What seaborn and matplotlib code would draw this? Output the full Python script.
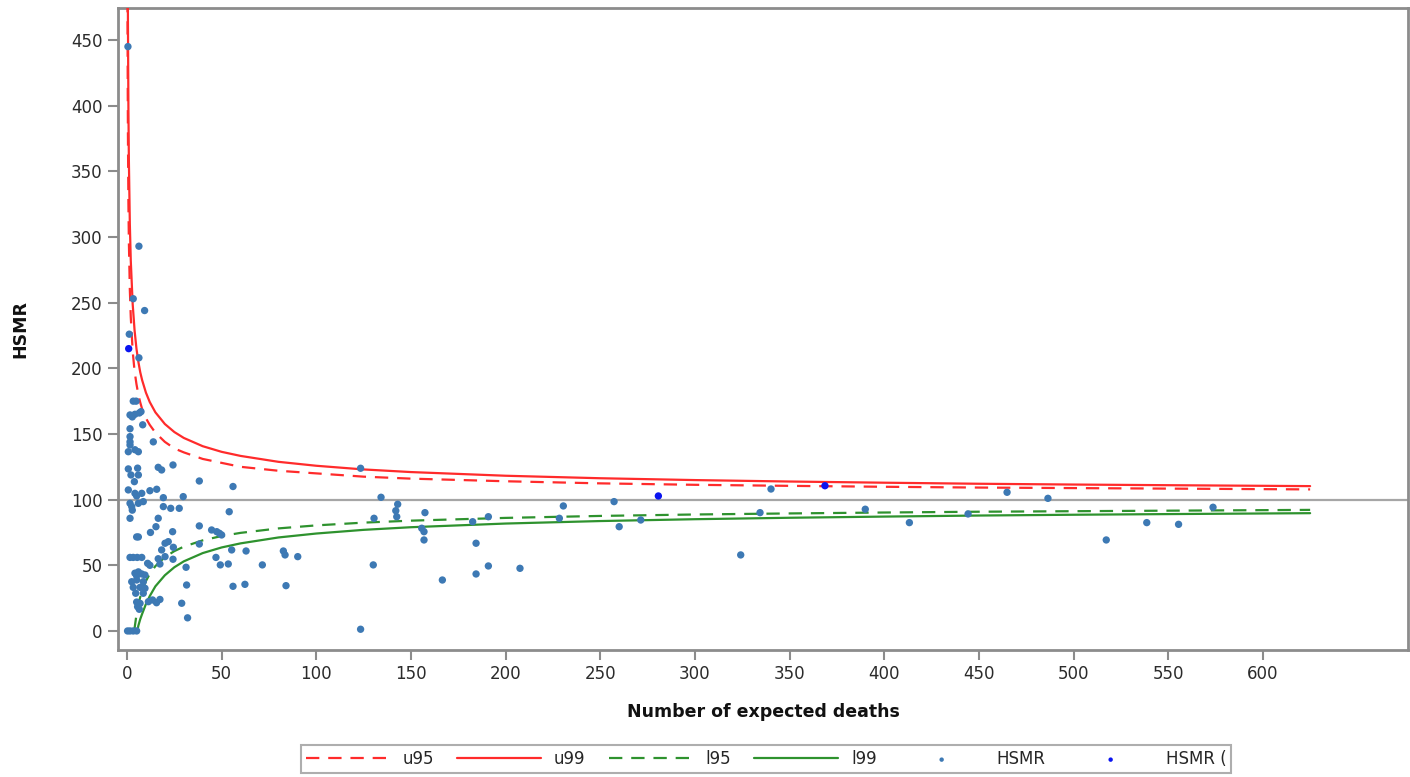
import numpy as np
import pandas as pd
import matplotlib
matplotlib.use("Agg")
import matplotlib.pyplot as plt
import seaborn as sns

# ---- data ----
hsmr_expected = [0.5, 6.3, 3.3, 9.3, 1.2, 6.3,
                 3.3, 4.8, 7.4, 1.6, 2.8, 4.2, 6.5, 8.3, 1.6,
                 1.6, 1.6, 1.6, 4.2, 6.0, 0.7, 13.9,
                 0.7, 5.6, 2.1, 6.0, 3.9, 16.5, 18.3, 24.3, 38.2, 56.0,
                 0.7, 4.2, 5.1, 7.8, 12.1, 15.7, 19.2, 29.7,
                 1.6, 2.5, 6.0, 8.6, 2.8, 19.2, 23.1, 27.6, 54.0,
                 1.6, 16.5, 15.3, 12.4, 5.1, 6.0, 24.1, 38.2, 44.7, 47.4, 48.8, 50.0,
                 38.2, 20.1, 21.8, 24.5, 18.3, 20.1,
                 1.6, 3.3, 5.4, 7.8, 16.5, 17.4, 24.3, 10.9, 12.1,
                 55.3, 62.9, 82.6, 83.5, 90.2, 47.0, 49.3, 53.5, 71.5,
                 6.0, 4.2, 7.8, 9.5, 5.1,
                 2.5, 5.1, 8.6, 3.3, 6.9, 9.5, 4.6, 8.6,
                 31.2, 31.5, 56.0, 62.3, 84.0,
                 5.1, 6.9, 5.6, 6.5, 11.3, 13.5, 15.6, 17.4,
                 28.9, 32.0, 0.3, 1.6, 3.3, 5.1, 123.4,
                 123.4, 134.2, 130.5, 130.1, 143.0, 142.0, 142.5, 157.4, 155.7,
                 156.9, 156.9, 166.6, 182.6, 184.4, 184.4, 190.9, 190.9, 207.6,
                 230.5, 228.4, 257.3, 260.0, 271.4, 324.2, 334.4, 340.2, 390.0,
                 413.3, 444.3, 464.9, 486.5, 517.3, 538.7, 555.5, 573.7]
hsmr_value = [445, 293, 253, 244, 226, 208,
              175, 175, 167, 164.5, 163, 165, 166, 157, 154,
              148, 144, 141.6, 138, 136.5, 136.5, 144,
              123.4, 124, 118.8, 118.8, 113.7, 124.6, 122.6, 126.4, 114.2, 110,
              107.4, 104.8, 102.8, 104.8, 106.8, 107.9, 101.5, 102.3,
              97.2, 94.7, 97.2, 98.5, 92, 94.7, 93.4, 93.4, 90.8,
              85.8, 85.8, 79.4, 75, 71.6, 71.6, 75.6, 80, 76.9, 75.6, 74.4, 73.1,
              66.2, 66.8, 68, 63.7, 61.7, 56.6,
              56, 56, 56, 56, 55, 51, 54.6, 51.5, 50,
              61.7, 60.9, 60.9, 57.9, 56.6, 56, 50.3, 51, 50.3,
              45, 44, 43.4, 42.6, 42,
              37.5, 38.8, 37.5, 33.2, 33.2, 32.5, 28.7, 28.7,
              48.5, 35, 34, 35.5, 34.5,
              22, 21, 18.5, 16.5, 22.3, 23.6, 21.5, 24,
              21.1, 10, 0, 0, 0, 0, 1.3,
              123.9, 101.8, 85.8, 50.3, 96.5, 91.6, 87, 90.1, 78.2,
              75.6, 69.3, 38.8, 83.2, 66.8, 43.4, 87, 49.5, 47.7,
              95.2, 85.8, 98.5, 79.4, 84.5, 57.9, 90.1, 108.1, 92.7,
              82.5, 89.1, 105.6, 101, 69.3, 82.5, 81.2, 94.2]

flag_expected = [0.9, 280.7, 368.7]
flag_value = [215, 102.8, 110.6]

upper_expected = [0.25, 0.3, 0.4, 0.5, 0.75, 1, 1.5, 2, 3, 4, 5, 6, 7, 8, 10, 12, 15, 20,
                  25, 30, 40, 50, 60, 80, 100, 125, 150, 200, 250, 300, 350, 400, 450,
                  500, 550, 625]
u95 = [492, 458, 410, 377, 326, 296, 260, 239, 213, 198, 188, 180, 174, 169, 162, 157,
       151, 144, 139, 136, 131, 128, 125, 122, 120, 117.5, 116, 114, 112.4, 111.3,
       110.5, 109.8, 109.2, 108.8, 108.4, 107.8]
u99 = [615, 570, 507, 464, 398, 358, 310, 282, 249, 229, 215, 205, 197, 191, 181.5,
       174.4, 166.5, 157.6, 151.5, 147, 140.7, 136.4, 133.3, 128.8, 125.8, 123, 121,
       118.2, 116.3, 114.9, 113.8, 112.9, 112.1, 111.5, 111, 110.3]

l95_expected = [3.9, 4, 5, 6, 7, 8, 10, 12, 15, 20, 25, 30, 40, 50, 60, 80, 100, 125,
                150, 200, 250, 300, 350, 400, 450, 500, 550, 625]
l95 = [0, 2, 12.3, 20, 25.9, 30.7, 38, 43.4, 49.4, 56.2, 60.8, 64.2, 69, 72.3, 74.7,
       78.1, 80.4, 82.5, 84, 86.1, 87.6, 88.7, 89.5, 90.2, 90.8, 91.2, 91.6, 92.2]

l99_expected = [5.5, 6, 7, 8, 10, 12, 15, 20, 25, 30, 40, 50, 60, 80, 100, 125, 150,
                200, 250, 300, 350, 400, 450, 500, 550, 625]
l99 = [0, 4, 9, 13, 20.5, 26.5, 34, 42.4, 48.5, 53, 59.3, 63.6, 66.7, 71.2, 74.2, 77,
       79, 81.8, 83.7, 85.1, 86.2, 87.1, 87.9, 88.5, 89, 89.7]

x_ticks = list(range(0, 601, 50))
y_ticks = list(range(0, 451, 50))
target = 100

# ---- styling ----
sns.set_theme(style="white")
plt.rcParams["font.family"] = ["DejaVu Sans"]

fig = plt.figure(figsize=(14.1, 7.77), dpi=100)
ax = fig.add_axes([118 / 1410, 1 - 650 / 777, (1408 - 118) / 1410, (650 - 8) / 777])

RED = "#ff2b2b"
GREEN = "#2e922e"
PT = "#3d79b4"
DARK = "#0a14f0"
GREY = "#8c8c8c"

ax.axhline(target, color="#a6a6a6", lw=1.6, zorder=1)

sns.lineplot(x=upper_expected, y=u95, color=RED, lw=1.6, label="u95", ax=ax,
             estimator=None, sort=False, zorder=3)
sns.lineplot(x=upper_expected, y=u99, color=RED, lw=1.6, label="u99", ax=ax,
             estimator=None, sort=False, zorder=3)
sns.lineplot(x=l95_expected, y=l95, color=GREEN, lw=1.6, label="l95", ax=ax,
             estimator=None, sort=False, zorder=3)
sns.lineplot(x=l99_expected, y=l99, color=GREEN, lw=1.6, label="l99", ax=ax,
             estimator=None, sort=False, zorder=3)
lines = ax.get_lines()
lines[1].set_dashes([6, 4])   # u95
lines[3].set_dashes([6, 4])   # l95

sns.scatterplot(x=hsmr_expected, y=hsmr_value, color=PT, s=28, edgecolor="none",
                label="HSMR", ax=ax, zorder=4)
sns.scatterplot(x=flag_expected, y=flag_value, color=DARK, s=28, edgecolor="none",
                label="HSMR (", ax=ax, zorder=5)

ax.set_xlim(-4.75, 676.7)
ax.set_ylim(-14.5, 474.4)
ax.set_xticks(x_ticks)
ax.set_yticks(y_ticks)

for sp in ax.spines.values():
    sp.set_color(GREY)
    sp.set_linewidth(2)

ax.tick_params(axis="both", which="major", direction="out", length=7, width=1.5,
               color=GREY, labelsize=12, labelcolor="#2b2b2b", pad=4)
ax.tick_params(bottom=True, left=True)

ax.set_xlabel("Number of expected deaths", fontsize=12.5, fontweight="bold",
              color="#111111", labelpad=14)
ax.set_ylabel("HSMR", fontsize=12.5, fontweight="bold", color="#111111", labelpad=30)

handles, labels = ax.get_legend_handles_labels()
ax.get_legend().remove()
leg = fig.legend(handles, labels, loc="upper center", ncol=6,
                 bbox_to_anchor=(766 / 1410, 1 - 745 / 777),
                 frameon=True, fancybox=False, edgecolor="#9a9a9a",
                 fontsize=12, handlelength=5.0, handletextpad=0.8,
                 columnspacing=1.4, markerscale=0.6, borderpad=0.3,
                 borderaxespad=0)
leg.get_frame().set_linewidth(1.5)

fig.savefig("out.png", dpi=100)
